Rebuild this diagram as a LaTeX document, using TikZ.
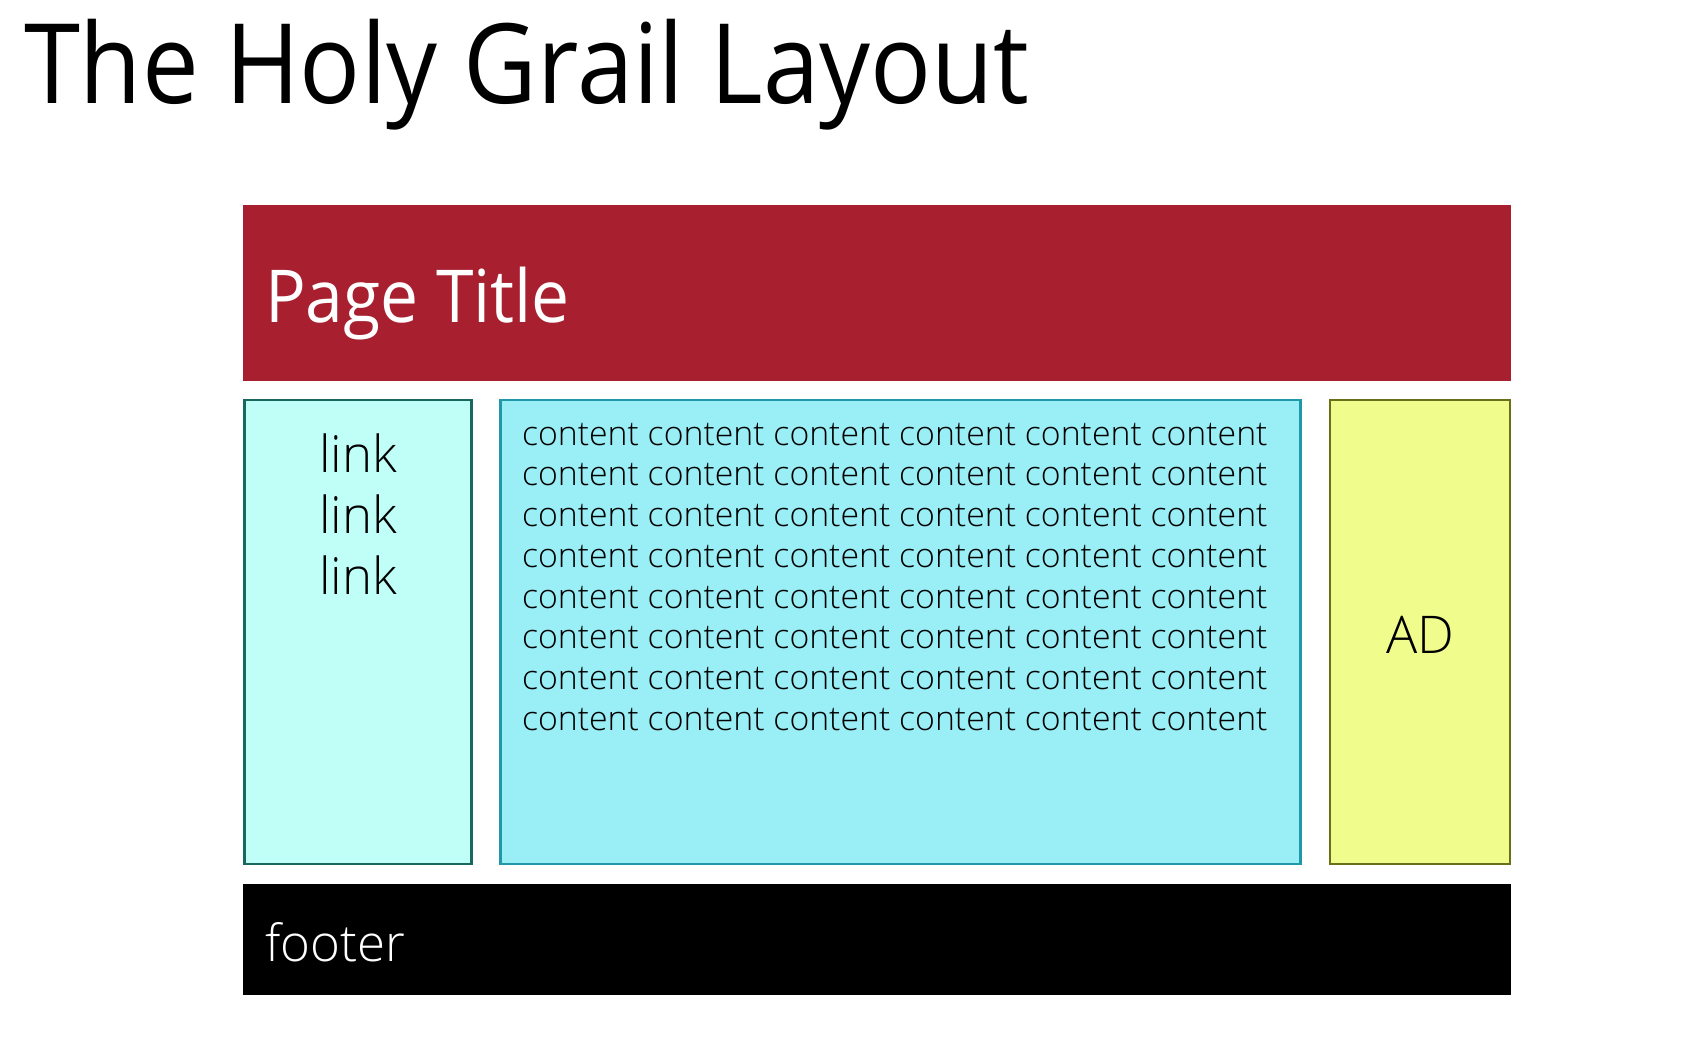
\documentclass[tikz,border=0pt]{standalone}
\usepackage{fontspec}
\usetikzlibrary{calc}
\setmainfont{Open Sans}
\newfontfamily\narrowfont[FakeStretch=0.912]{Open Sans}
\newfontfamily\titlefont[FakeStretch=0.928]{Open Sans}
\IfFontExistsTF{Open Sans Light}
  {\newfontfamily\thinfont{Open Sans Light}}
  {\newfontfamily\thinfont[FakeStretch=0.95]{Open Sans}}
\definecolor{hdrred}{RGB}{168,32,48}
\definecolor{navfill}{RGB}{192,255,248}
\definecolor{navline}{RGB}{24,104,96}
\definecolor{mainfill}{RGB}{154,238,246}
\definecolor{mainline}{RGB}{32,152,168}
\definecolor{adfill}{RGB}{240,252,140}
\definecolor{adline}{RGB}{107,112,24}
\tikzset{
  panel/.style={rectangle, anchor=north west, inner sep=0pt, outer sep=0pt},
  framed/.style={panel, line width=2.5pt},
  label/.style={inner sep=0pt, outer sep=0pt},
}
\begin{document}
\begin{tikzpicture}[x=1pt,y=-1pt]
  \useasboundingbox[fill=white] (0,0) rectangle (1702,1038);

  % heading
  \node[label, anchor=base west, font=\narrowfont\fontsize{111}{130}\selectfont] (heading) at (24,104)
    {The Holy Grail Layout};

  % header bar
  \node[panel, fill=hdrred, minimum width=1268pt, minimum height=176pt] (hdr) at (243,205) {};
  \node[label, anchor=base west, text=white, font=\titlefont\fontsize{73}{90}\selectfont] (hdrtext) at (265,322)
    {Page Title};

  % navigation column
  \node[framed, draw=navline, fill=navfill, minimum width=227pt, minimum height=464pt] (nav) at (244.5,400) {};
  \node[label, anchor=north, align=center, font=\thinfont\fontsize{51}{61}\selectfont] (links) at (358,433.5)
    {link\\link\\link};

  % main content column
  \node[framed, draw=mainline, fill=mainfill, minimum width=800pt, minimum height=464pt] (main) at (500.5,400) {};
  \node[label, anchor=north west, align=left, font=\thinfont\fontsize{33.8}{40.7}\selectfont] (maintext) at (522,423)
    {content content content content content content\\
     content content content content content content\\
     content content content content content content\\
     content content content content content content\\
     content content content content content content\\
     content content content content content content\\
     content content content content content content\\
     content content content content content content};

  % advert column
  \node[framed, draw=adline, fill=adfill, minimum width=180pt, minimum height=464pt] (ad) at (1330,400) {};
  \node[label, font=\thinfont\fontsize{52}{62}\selectfont] (adtext) at ($(ad.center)+(0,3)$) {AD};

  % footer bar
  \node[panel, fill=black, minimum width=1268pt, minimum height=111pt] (foot) at (243,884) {};
  \node[label, anchor=base west, text=white, font=\thinfont\fontsize{51}{60}\selectfont] (foottext) at (265,961)
    {footer};
\end{tikzpicture}
\end{document}
